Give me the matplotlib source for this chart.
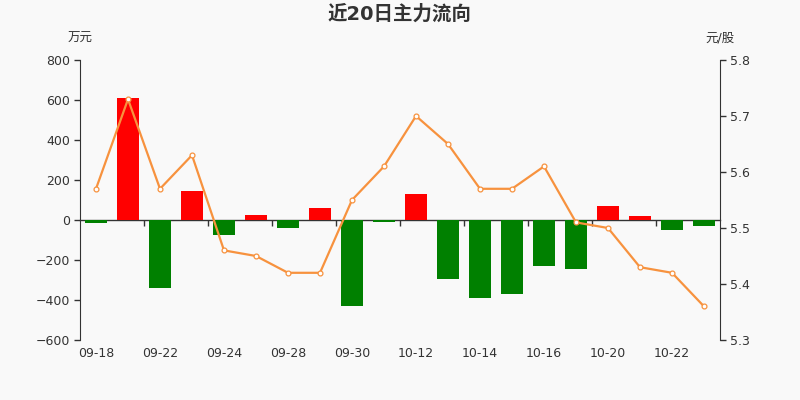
import matplotlib
matplotlib.use("Agg")
import matplotlib.pyplot as plt
import numpy as np

plt.rcParams['font.family'] = ['DejaVu Sans', 'Noto Sans CJK SC']

dates = ["09-18", "09-21", "09-22", "09-23", "09-24", "09-25", "09-28", "09-29", "09-30", "10-09",
         "10-12", "10-13", "10-14", "10-15", "10-16", "10-19", "10-20", "10-21", "10-22", "10-23"]
flow = [-17, 610, -340, 147, -77, 25, -42, 62, -432, -8,
        130, -297, -390, -372, -230, -245, 70, 22, -48, -30]
price = [5.57, 5.73, 5.57, 5.63, 5.46, 5.45, 5.42, 5.42, 5.55, 5.61,
         5.70, 5.65, 5.57, 5.57, 5.61, 5.51, 5.50, 5.43, 5.42, 5.36]

bg = '#f9f9f9'
txt = '#333333'
fig = plt.figure(figsize=(8, 4), dpi=100, facecolor=bg)
ax = fig.add_axes([0.1, 0.15, 0.8, 0.7])
ax.set_facecolor(bg)
x = np.arange(len(dates))
colors = ['#ff0000' if v >= 0 else '#008000' for v in flow]
ax.bar(x, flow, width=0.7, color=colors, zorder=2)
ax.set_xlim(-0.5, len(dates) - 0.5)
ax.set_ylim(-600, 800)
ax.set_yticks(range(-600, 801, 200))
ax.tick_params(axis='y', colors=txt, labelsize=9, length=4, width=1, direction='out', pad=3)
for s in ['top', 'right', 'bottom']:
    ax.spines[s].set_visible(False)
ax.spines['left'].set_color(txt)

ax.set_xticks(x[::2])
ax.set_xticklabels(dates[::2])
ax.tick_params(axis='x', length=0, colors=txt, labelsize=9, pad=5)

# zero-line axis with tick marks between categories
sec = ax.secondary_xaxis(600 / 1400)
sec.set_xticks(x[1:-1:2] + 0.5)
sec.set_xticklabels([])
sec.tick_params(axis='x', length=4, width=1, color=txt, direction='out')
sec.spines['bottom'].set_color(txt)
sec.spines['bottom'].set_linewidth(1)

ax2 = ax.twinx()
ax2.plot(x, price, color='#f7923e', lw=1.6, marker='o', markersize=3.5,
         markerfacecolor='white', markeredgecolor='#f7923e', markeredgewidth=0.9, zorder=3)
ax2.set_ylim(5.3, 5.8)
ax2.set_yticks([5.3, 5.4, 5.5, 5.6, 5.7, 5.8])
ax2.set_yticklabels(['5.3', '5.4', '5.5', '5.6', '5.7', '5.8'])
ax2.tick_params(axis='y', colors=txt, labelsize=9, length=4, width=1, direction='out', pad=3)
for s in ['top', 'left', 'bottom']:
    ax2.spines[s].set_visible(False)
ax2.spines['right'].set_color(txt)

fig.text(0.5, 0.965, "近20日主力流向", ha='center', va='center', fontsize=14,
         fontweight='bold', color=txt)
fig.text(0.1, 0.905, "万元", ha='center', va='center', fontsize=9, color=txt)
fig.text(0.9, 0.905, "元/股", ha='center', va='center', fontsize=9, color=txt)

fig.savefig("out.png", dpi=100, facecolor=bg)
